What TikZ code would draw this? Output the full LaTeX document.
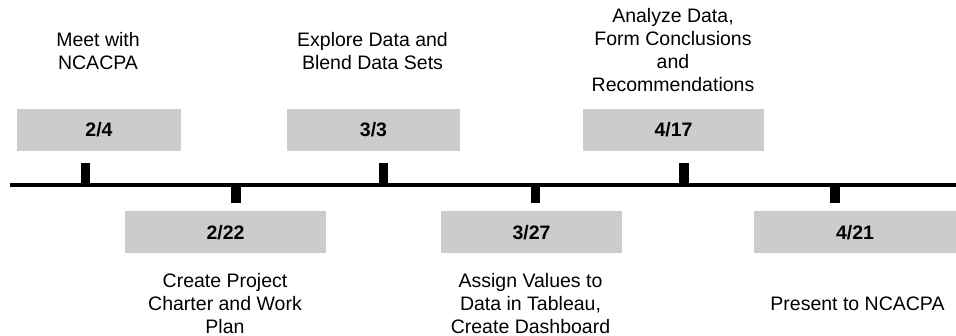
\documentclass[tikz,border=0pt]{standalone}
\usepackage{fontspec}
\setmainfont{Liberation Sans}
\definecolor{boxgray}{HTML}{CCCCCC}
\tikzset{
  datebox/.style={fill=boxgray, inner sep=0pt, minimum height=42pt, font=\bfseries},
  note/.style={anchor=north, inner sep=0pt, align=center}
}
\begin{document}
\begin{tikzpicture}[x=1pt, y=-1pt]
    \useasboundingbox (0,0) rectangle (956,336);
    \fontsize{19.5}{23}\selectfont
    % Linea de tiempo
    \draw[line width=4pt] (10,185) -- (956,185);
    
    % Marcas arriba
    \foreach \x in {85.5, 383.5, 684}
        \fill (\x-4.75,163) rectangle (\x+4.75,185);
    % Marcas abajo
    \foreach \x in {236, 535.5, 835}
        \fill (\x-4.75,185) rectangle (\x+4.75,203);
    
    % Fechas
    \node[datebox, minimum width=164pt] (d24) at (99,130) {2/4};
    \node[datebox, minimum width=201pt] (d222) at (225.5,232.5) {2/22};
    \node[datebox, minimum width=173pt] (d33) at (373.5,130) {3/3};
    \node[datebox, minimum width=181pt] (d327) at (531.5,232.5) {3/27};
    \node[datebox, minimum width=181pt] (d417) at (673.5,130) {4/17};
    \node[datebox, minimum width=202pt] (d421) at (855,232.5) {4/21};
    
    % Actividades
    \node[note] (meet) at (98,32) {Meet with\\NCACPA};
    \node[note] (explore) at (372.5,32) {Explore Data and\\Blend Data Sets};
    \node[note] (analyze) at (673,8) {Analyze Data,\\Form Conclusions\\and\\Recommendations};
    \node[note] (charter) at (225,273) {Create Project\\Charter and Work\\Plan};
    \node[note] (assign) at (530.5,273) {Assign Values to\\Data in Tableau,\\Create Dashboard};
    \node[note] (present) at (857.5,297) {Present to NCACPA};
\end{tikzpicture}
\end{document}
